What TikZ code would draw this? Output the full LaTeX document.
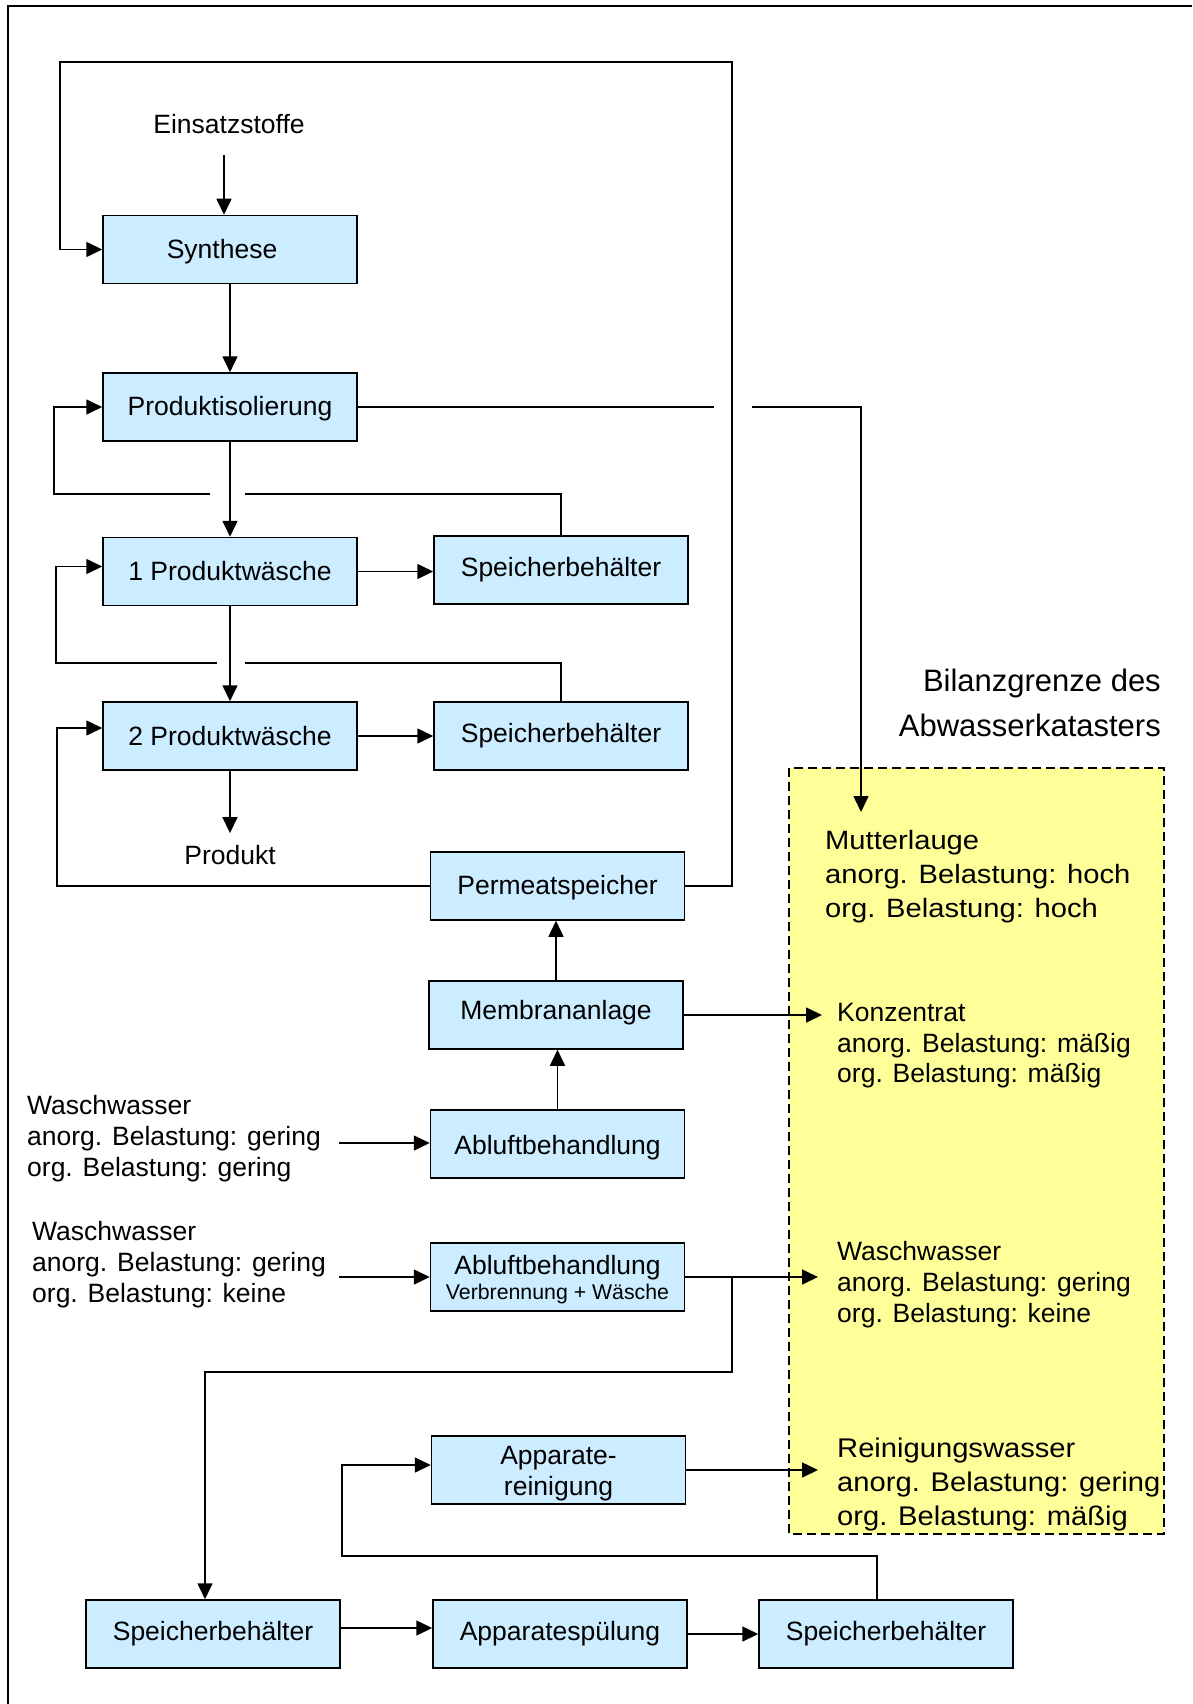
\documentclass[tikz,border=0pt]{standalone}
\usepackage{fontspec}
\usepackage{graphicx}
\setmainfont{Liberation Sans}
\usetikzlibrary{arrows.meta,calc}
\definecolor{boxblue}{RGB}{204,236,255}
\definecolor{zoneyellow}{RGB}{255,255,153}
\newcommand{\fsz}[2]{\fontsize{#1}{#2}\selectfont}
% shift a text line vertically without changing its reported size
\newcommand{\lift}[2]{\raisebox{#1}[\height][\depth]{#2}}

\begin{document}
\begin{tikzpicture}[x=1pt,y=-1pt,
  proc/.style={draw=black, line width=1.5pt, fill=boxblue, minimum width=254pt,
               minimum height=68pt, inner sep=0pt, align=center, font=\fsz{26.5}{28}},
  conn/.style={line width=1.6pt},
  arr/.style={conn, -{Triangle[length=16pt,width=15pt]}},
  lbl/.style={inner sep=0pt, align=left, font=\fsz{26.5}{31}},
  zonelbl/.style={inner sep=0pt, anchor=west},
]
\useasboundingbox (0,0) rectangle (1192,1704);
\fill[white] (0,0) rectangle (1192,1704);

% page frame
\draw[line width=2pt] (8,1704) -- (8,6) -- (1192,6);

% balance boundary of the waste-water register
\draw[fill=zoneyellow, line width=2pt, dash pattern=on 9pt off 5pt] (789,768) rectangle (1164,1534);
\node[inner sep=0pt, anchor=east, align=right, font=\fsz{31}{45}] (bil) at (1161,703)
  {Bilanzgrenze des\\Abwasserkatasters};

% process units
\node[proc] (syn)   at (230,249.5) {\lift{-2pt}{\hspace*{-16pt}Synthese}};
\node[proc] (piso)  at (230,407)   {\lift{-2pt}{Produktisolierung}};
\node[proc] (pw1)   at (230,571.5) {1 Produktwäsche};
\node[proc] (sb1)   at (561,570)   {Speicherbehälter};
\node[proc] (pw2)   at (230,736)   {2 Produktwäsche};
\node[proc] (sb2)   at (561,736)   {Speicherbehälter};
\node[proc] (perm)  at (557.5,886) {\lift{-2pt}{Permeatspeicher}};
\node[proc] (memb)  at (556,1015)  {\lift{2pt}{Membrananlage}};
\node[proc] (abl1)  at (557.5,1144) {\lift{-4pt}{Abluftbehandlung}};
\node[proc] (abl2)  at (557.5,1277)
  {\lift{-3pt}{Abluftbehandlung}\\[-3pt]\fsz{21.3}{24}\lift{-3pt}{Verbrennung + Wäsche}};
\node[proc] (appr)  at (558.5,1470)
  {\lift{-4pt}{Apparate-}\\[3pt]\lift{-4pt}{reinigung}};
\node[proc] (sb3)   at (213,1634)  {Speicherbehälter};
\node[proc] (spuel) at (560,1634)  {Apparatespülung};
\node[proc] (sb5)   at (886,1634)  {Speicherbehälter};

% free labels
\node[lbl] (ein)  at (229,124) {Einsatzstoffe};
\node[lbl] (prod) at (230,855) {Produkt};
\node[lbl, anchor=west] (ww1) at (27,1139)
  {Waschwasser\\anorg. Belastung: gering\\org. Belastung: gering};
\node[lbl, anchor=west] (ww2) at (32,1265)
  {Waschwasser\\anorg. Belastung: gering\\org. Belastung: keine};

% streams leaving across the boundary
\node[zonelbl] (mut) at (825,877) {\scalebox{1.1}[1]{\fsz{26.5}{34}%
  \begin{tabular}{@{}l@{}}Mutterlauge\\anorg. Belastung: hoch\\org. Belastung: hoch\end{tabular}}};
\node[zonelbl] (konz) at (837,1046) {\fsz{26.5}{30.5}%
  \begin{tabular}{@{}l@{}}Konzentrat\\anorg. Belastung: mäßig\\org. Belastung: mäßig\end{tabular}};
\node[zonelbl] (wwr) at (837,1285) {\fsz{26.5}{31}%
  \begin{tabular}{@{}l@{}}Waschwasser\\anorg. Belastung: gering\\org. Belastung: keine\end{tabular}};
\node[zonelbl] (rein) at (837,1485) {\scalebox{1.08}[1]{\fsz{27}{34}%
  \begin{tabular}{@{}l@{}}Reinigungswasser\\anorg. Belastung: gering\\org. Belastung: mäßig\end{tabular}}};

% connector end points
\coordinate (einout) at (224,155);
\coordinate (tr) at (732,62);
\coordinate (tl) at (60,62);
\coordinate (jA1) at (714,407);
\coordinate (jA2) at (752,407);
\coordinate (mutin) at (861,812);
\coordinate (jB1) at (210,494);
\coordinate (jB2) at (245,494);
\coordinate (lB) at (54,494);
\coordinate (jC1) at (217,663);
\coordinate (jC2) at (245,663);
\coordinate (lC) at (56,663);
\coordinate (lD) at (57,886);
\coordinate (konzin) at (822,1016);
\coordinate (ww1out) at (339,1143);
\coordinate (ww2out) at (339,1277);
\coordinate (wwin) at (818,1277);
\coordinate (br) at (732,1277);
\coordinate (sb3in) at (205,1372);
\coordinate (reinin) at (818,1470);
\coordinate (loopc) at (342,1556);

% main product line
\draw[arr] (einout) -- (einout |- syn.north);
\draw[arr] (syn.south) -- (piso.north);
\draw[arr] (piso.south) -- (pw1.north);
\draw[arr] (pw1.south) -- (pw2.north);
\draw[arr, shorten >=12pt] (pw2.south) -- (pw2.south |- prod.north);
\draw[arr] (pw1.east) -- (pw1.east -| sb1.west);
\draw[arr] (pw2.east) -- (sb2.west);

% recycle loops
\draw[arr] (perm.east) -| (tr) -- (tl) |- (syn.west);
\draw[conn] (sb1.north) |- (jB2);
\draw[arr] (jB1) -- (lB) |- (piso.west);
\draw[conn] (sb2.north) |- (jC2);
\draw[arr] (jC1) -- (lC) |- ([yshift=5pt]pw1.west);
\draw[arr] (perm.west) -- (lD) |- ([yshift=8pt]pw2.west);

% mother liquor
\draw[conn] (piso.east) -- (jA1);
\draw[arr] (jA2) -| (mutin);

% membrane and off-gas treatment
\draw[arr] (memb.north) -- (memb.north |- perm.south);
\draw[arr] (abl1.north) -- (abl1.north |- memb.south);
\draw[arr] (memb.east) -- (memb.east -| konzin);
\draw[arr] (ww1out) -- (ww1out -| abl1.west);
\draw[arr] (ww2out) -- (abl2.west);
\draw[arr] (abl2.east) -- (wwin);
\draw[arr] (br) |- (sb3in) -- (sb3in |- sb3.north);

% equipment cleaning
\draw[arr] (appr.east) -- (reinin);
\draw[arr] ([yshift=6pt]sb3.east) -- ([yshift=6pt]spuel.west);
\draw[arr] (spuel.east) -- (sb5.west);
\draw[arr] ([xshift=-9pt]sb5.north) |- (loopc) |- ([yshift=5pt]appr.west);
\end{tikzpicture}
\end{document}
